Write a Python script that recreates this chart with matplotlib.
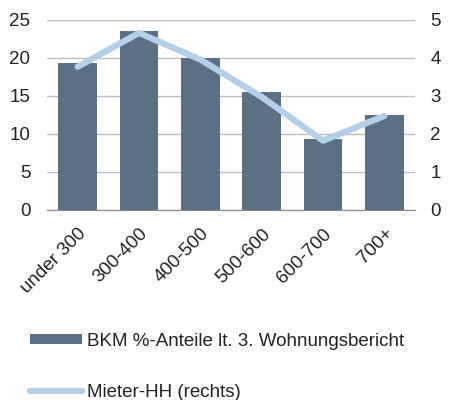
import matplotlib
matplotlib.use("Agg")
import matplotlib.pyplot as plt

plt.rcParams['font.family'] = ['Liberation Sans', 'DejaVu Sans']

categories = ["under 300", "300-400", "400-500", "500-600", "600-700", "700+"]
bkm_anteile = [19.25, 23.5, 20.0, 15.5, 9.3, 12.5]
mieter_hh = [3.76, 4.65, 3.95, 2.97, 1.82, 2.47]

bar_color = "#5B6F85"
line_color = "#B4CFEA"
text_color = "#222222"
fs = 13.5

fig = plt.figure(figsize=(4.49, 4.0), dpi=100)
ax = fig.add_axes([0.1047, 0.475, 0.8195, 0.476])
ax2 = ax.twinx()

x = range(len(categories))
ax.bar(x, bkm_anteile, width=0.63, color=bar_color, zorder=2,
       label="BKM %-Anteile lt. 3. Wohnungsbericht")
ax2.plot(x, mieter_hh, color=line_color, linewidth=4.5, solid_capstyle='round',
         label="Mieter-HH (rechts)")

ax.set_xlim(-0.5, len(categories) - 0.5)
ax.set_ylim(0, 25)
ax2.set_ylim(0, 5)
ax.set_yticks(range(0, 26, 5))
ax2.set_yticks(range(0, 6))
ax.set_axisbelow(True)
ax.yaxis.grid(True, color="#BFBFBF", linewidth=1)

for a in (ax, ax2):
    for s in a.spines.values():
        s.set_visible(False)
    a.tick_params(length=0, labelsize=fs, colors=text_color)
ax.spines['bottom'].set_visible(True)
ax.spines['bottom'].set_color("#888888")
ax.tick_params(axis='y', pad=12)
ax2.tick_params(axis='y', pad=11)

ax.set_xticks(list(x))
ax.set_xticklabels(categories, rotation=45, ha='right', rotation_mode='anchor')
ax.tick_params(axis='x', pad=11)

h1, l1 = ax.get_legend_handles_labels()
h2, l2 = ax2.get_legend_handles_labels()
fig.legend(h1 + h2, l1 + l2, loc='upper left', bbox_to_anchor=(0.066, 0.168),
           frameon=False, fontsize=fs, labelspacing=1.82, handlelength=2.77,
           handleheight=0.5, handletextpad=0.27, borderpad=0, borderaxespad=0,
           labelcolor=text_color)

fig.savefig("out.png", dpi=100)
